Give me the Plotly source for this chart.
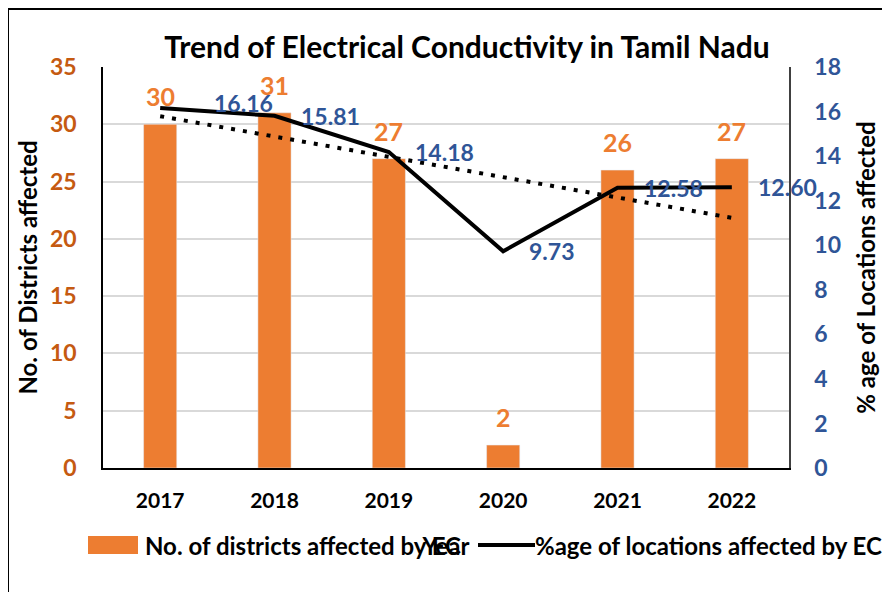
import numpy as np
import plotly.graph_objects as go

years = ["2017", "2018", "2019", "2020", "2021", "2022"]
districts = [30, 31, 27, 2, 26, 27]
pct_locations = [16.16, 15.81, 14.18, 9.73, 12.58, 12.60]

left_ticks = [0, 5, 10, 15, 20, 25, 30, 35]
right_ticks = [0, 2, 4, 6, 8, 10, 12, 14, 16, 18]

title_text = "Trend of Electrical Conductivity in Tamil Nadu"
bar_name = "No. of districts affected by EC"
line_name = "%age of locations affected by EC"

ORANGE = "#ED7D31"
ORANGE_DARK = "#C55A11"
BLUE = "#2F5597"
FONT = "Lato"

# the page body adds an 8px offset; compensate so the screenshot lines up
OFF = 8
W, H = 890, 592
PW, PH = 686, 401
L, T = 103 - OFF, 67 - OFF
R, B = W - L - PW, H - T - PH


def px_x(px):
    return (px - OFF - L) / PW


def px_y(py):
    return (T + PH - (py - OFF)) / PH


def bf(size, color="black"):
    return dict(family=FONT, size=size, color=color, weight="bold")


# linear trendline (least squares, like the spreadsheet trendline)
xi = np.arange(len(years))
slope, intercept = np.polyfit(xi, pct_locations, 1)
trend = slope * xi + intercept

fig = go.Figure()
fig.add_trace(go.Bar(x=years, y=districts, name=bar_name, marker_color=ORANGE,
                     width=0.29, yaxis="y", showlegend=False))
fig.add_trace(go.Scatter(x=years, y=pct_locations, name=line_name, mode="lines",
                         line=dict(color="black", width=4), yaxis="y2", showlegend=False))
fig.add_trace(go.Scatter(x=years, y=trend, name="Linear trend", mode="lines",
                         line=dict(color="black", width=4, dash="4px,8px"),
                         yaxis="y2", showlegend=False))

annotations = []
for i, v in enumerate(districts):
    annotations.append(dict(x=i, y=v, xref="x", yref="y", text=str(v), showarrow=False,
                            yshift=28, font=bf(25, ORANGE)))
for i, v in enumerate(pct_locations):
    first = i == 0
    annotations.append(dict(x=i, y=v, xref="x", yref="y2", text=f"{v:.2f}", showarrow=False,
                            xanchor="left", xshift=52 if first else 24, yshift=5 if first else 0,
                            font=bf(23, BLUE)))

# manual legend texts
annotations.append(dict(x=px_x(143), y=px_y(545), xref="paper", yref="paper", text=bar_name,
                        showarrow=False, xanchor="left", yanchor="middle", font=bf(24)))
annotations.append(dict(x=px_x(533), y=px_y(545), xref="paper", yref="paper", text=line_name,
                        showarrow=False, xanchor="left", yanchor="middle", font=bf(24)))

shapes = [
    dict(type="rect", xref="paper", yref="paper", x0=px_x(88), x1=px_x(138),
         y0=px_y(554), y1=px_y(536), fillcolor=ORANGE, line=dict(width=0)),
    dict(type="line", xref="paper", yref="paper", x0=px_x(478), x1=px_x(535),
         y0=px_y(545), y1=px_y(545), line=dict(color="black", width=4)),
    dict(type="rect", xref="paper", yref="paper", x0=px_x(8), x1=px_x(1000),
         y0=px_y(700), y1=px_y(9), line=dict(color="black", width=2), fillcolor="rgba(0,0,0,0)",
         layer="below"),
]

fig.update_layout(
    width=W, height=H,
    margin=dict(l=L, r=R, t=T, b=B),
    paper_bgcolor="white", plot_bgcolor="white",
    font=dict(family=FONT, color="black"),
    title=dict(text=title_text, x=px_x(467), xref="paper", xanchor="center",
               y=1 - (47 - OFF) / H, yref="container", yanchor="middle", font=bf(30)),
    xaxis=dict(type="category", range=[-0.5, 5.5], showline=True, linecolor="black",
               linewidth=1.5, ticks="", showgrid=False, ticklabelstandoff=13,
               tickfont=bf(21), automargin=False,
               title=dict(text="Year", standoff=27, font=bf(24))),
    yaxis=dict(range=[0, 35], tickvals=left_ticks, showline=True, linecolor="black",
               linewidth=1.5, gridcolor="#D9D9D9", gridwidth=1.5, zeroline=False,
               ticks="", ticklabelstandoff=20, tickfont=bf(23, ORANGE_DARK), automargin=False,
               title=dict(text="No. of Districts affected", standoff=6, font=bf(24))),
    yaxis2=dict(range=[0, 18], tickvals=right_ticks, overlaying="y", side="right",
                showline=True, linecolor="#404040", linewidth=1.5, showgrid=False,
                zeroline=False, ticks="", ticklabelstandoff=19, tickfont=bf(23, BLUE),
                automargin=False,
                title=dict(text="% age of Locations affected", standoff=18, font=bf(24))),
    annotations=annotations,
    shapes=shapes,
    showlegend=False,
)

fig.write_html("out.html")
